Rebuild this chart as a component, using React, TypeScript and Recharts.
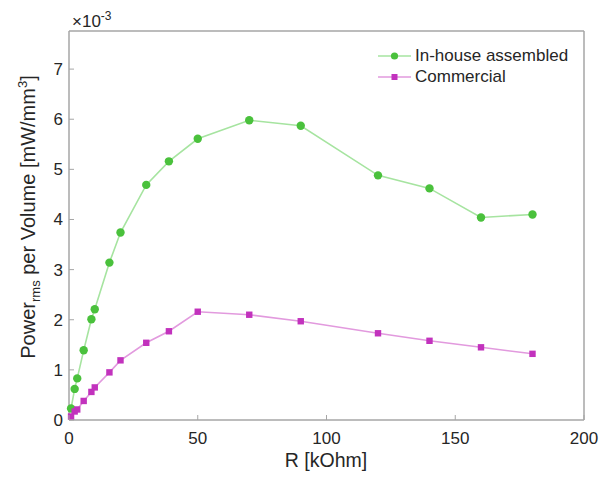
import React from "react";
import { LineChart, Line, XAxis, YAxis } from "recharts";

// resistance values (kOhm), shared by both series
const resistance = [0.8, 2.2, 3.2, 5.7, 8.7, 10, 15.7, 20, 30, 38.8, 50, 70, 90, 120, 140, 160, 180];
// power per volume, in units of 1e-3 mW/mm^3
const inHouse = [0.23, 0.62, 0.83, 1.39, 2.01, 2.21, 3.14, 3.74, 4.69, 5.16, 5.61, 5.98, 5.87, 4.88, 4.62, 4.04, 4.1];
const commercial = [0.07, 0.17, 0.21, 0.38, 0.56, 0.65, 0.95, 1.19, 1.54, 1.77, 2.16, 2.1, 1.97, 1.73, 1.58, 1.45, 1.32];

const xTicks = [0, 50, 100, 150, 200];
const yTicks = [0, 1, 2, 3, 4, 5, 6, 7];

const FONT = '"Liberation Sans", Arial, sans-serif';
const TEXT = "#262626";
const AXIS = "#a6a6a6";
const GREEN = "#4ac13c";
const GREEN_LINE = "#a6e4a0";
const MAGENTA = "#c232bd";
const MAGENTA_LINE = "#e29ade";

const data = resistance.map((r, i) => ({
  r,
  inhouse: inHouse[i],
  commercial: commercial[i],
}));

const BottomTick = (props: any) => {
  const { x, y, payload } = props;
  return (
    <g>
      <line x1={x} y1={y} x2={x} y2={y - 5} stroke={AXIS} />
      <text x={x} y={y + 24} textAnchor="middle" fontSize={17} fill={TEXT} fontFamily={FONT}>
        {payload.value}
      </text>
    </g>
  );
};

const LeftTick = (props: any) => {
  const { x, y, payload } = props;
  return (
    <g>
      <line x1={x} y1={y} x2={x + 5} y2={y} stroke={AXIS} />
      <text x={x - 6} y={y + 6} textAnchor="end" fontSize={17} fill={TEXT} fontFamily={FONT}>
        {payload.value}
      </text>
    </g>
  );
};

const YTitle = () => (
  <g fontFamily={FONT} fill={TEXT}>
    <text x={72} y={27} fontSize={17}>
      ×10
      <tspan fontSize={12} dy={-7}>-3</tspan>
    </text>
    <text transform="translate(35,217) rotate(-90)" textAnchor="middle" fontSize={20}>
      Power
      <tspan fontSize={13} dy={5}>rms</tspan>
      <tspan dy={-5}> per Volume [mW/mm</tspan>
      <tspan fontSize={13} dy={-8}>3</tspan>
      <tspan dy={8}>]</tspan>
    </text>
  </g>
);

const XTitle = () => (
  <text x={326} y={467} textAnchor="middle" fontSize={19.5} fill={TEXT} fontFamily={FONT}>
    R [kOhm]
  </text>
);

const GreenDot = (props: any) => {
  const { cx, cy, index } = props;
  return <circle key={`g-${index}`} cx={cx} cy={cy} r={4.2} fill={GREEN} />;
};

const MagentaDot = (props: any) => {
  const { cx, cy, index } = props;
  return <rect key={`m-${index}`} x={cx - 3.2} y={cy - 3.2} width={6.4} height={6.4} fill={MAGENTA} />;
};

const legendItems = [
  { name: "In-house assembled", line: GREEN_LINE, color: GREEN, square: false },
  { name: "Commercial", line: MAGENTA_LINE, color: MAGENTA, square: true },
];

const App = () => {
  return (
    <div style={{ position: "absolute", left: 0, top: 0, width: 605, height: 478, background: "#fff" }}>
      <LineChart width={605} height={478} data={data} margin={{ top: 31, right: 21, bottom: 0, left: 0 }}>
        <XAxis
          xAxisId="b"
          type="number"
          dataKey="r"
          domain={[0, 200]}
          ticks={xTicks}
          height={58}
          stroke={AXIS}
          strokeWidth={1.5}
          tickLine={false}
          tickSize={0}
          tickMargin={0}
          tick={<BottomTick />}
          label={<XTitle />}
        />
        <XAxis
          xAxisId="t"
          orientation="top"
          type="number"
          domain={[0, 200]}
          ticks={xTicks}
          height={1}
          mirror
          tick={false}
          tickSize={5}
          stroke={AXIS}
          strokeWidth={1.5}
        />
        <YAxis
          yAxisId="l"
          type="number"
          domain={[0, 7.76]}
          ticks={yTicks}
          width={69}
          stroke={AXIS}
          strokeWidth={1.5}
          tickLine={false}
          tickSize={0}
          tickMargin={0}
          tick={<LeftTick />}
          label={<YTitle />}
        />
        <YAxis
          yAxisId="r"
          orientation="right"
          type="number"
          domain={[0, 7.76]}
          ticks={yTicks}
          width={1}
          mirror
          tick={false}
          tickSize={5}
          stroke={AXIS}
          strokeWidth={1.5}
        />
        <Line
          xAxisId="b"
          yAxisId="l"
          type="linear"
          dataKey="inhouse"
          stroke={GREEN_LINE}
          strokeWidth={1.6}
          dot={<GreenDot />}
          activeDot={false}
          isAnimationActive={false}
        />
        <Line
          xAxisId="b"
          yAxisId="l"
          type="linear"
          dataKey="commercial"
          stroke={MAGENTA_LINE}
          strokeWidth={1.6}
          dot={<MagentaDot />}
          activeDot={false}
          isAnimationActive={false}
        />
      </LineChart>
      <div style={{ position: "absolute", left: 378, top: 46, fontFamily: FONT, fontSize: 17, color: TEXT }}>
        {legendItems.map((item) => (
          <div key={item.name} style={{ display: "flex", alignItems: "center", height: 20.5 }}>
            <svg width={34} height={12} style={{ marginRight: 3 }}>
              <line x1={0} y1={6} x2={33} y2={6} stroke={item.line} strokeWidth={1.6} />
              {item.square ? (
                <rect x={13.5} y={3} width={6} height={6} fill={item.color} />
              ) : (
                <circle cx={16.5} cy={6} r={3.6} fill={item.color} />
              )}
            </svg>
            <span style={{ lineHeight: "20px" }}>{item.name}</span>
          </div>
        ))}
      </div>
    </div>
  );
};

export default App;
